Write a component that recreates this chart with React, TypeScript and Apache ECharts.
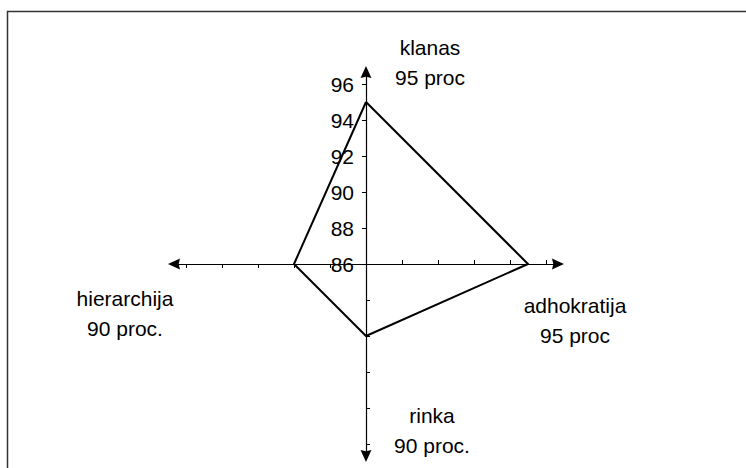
import React, { useEffect, useRef } from "react";
import * as echarts from "echarts";

const categories = ["klanas", "hierarchija", "rinka", "adhokratija"];
const values = [95, 90, 90, 95];
const valueLabels = ["95 proc", "90 proc.", "90 proc.", "95 proc"];
const axisMin = 86;
const axisMax = 96;

const FONT = "'Liberation Sans', Arial, sans-serif";
const ARROW = "path://M5,0L10,11L5,9.8L0,11Z";

export default function App() {
  const ref = useRef<HTMLDivElement>(null);
  useEffect(() => {
    document.body.style.margin = "0";
    if (!ref.current) return;
    const chart = echarts.init(ref.current, null, { renderer: "svg" });
    const namePos = [
      { x: 430, y: 32 },
      { x: 125, y: 283 },
      { x: 432, y: 400 },
      { x: 575, y: 290 },
    ];
    const baseRadar = {
      center: [366, 264],
      startAngle: 90,
      shape: "polygon",
      axisName: { show: false },
      splitLine: { show: false },
      splitArea: { show: false },
    };
    chart.setOption({
      animation: false,
      backgroundColor: "#fff",
      textStyle: { fontFamily: FONT },
      radar: [
        {
          ...baseRadar,
          radius: 180,
          splitNumber: 5,
          axisLine: { show: false },
          axisTick: { show: true, length: 4, lineStyle: { color: "#000", width: 1 } },
          axisLabel: { show: false, fontSize: 21, color: "#000", fontFamily: FONT, margin: 12 },
          indicator: categories.map((c, i) => ({
            name: c,
            min: axisMin,
            max: axisMax,
            axisLabel: { show: i === 0 },
            axisTick: { inside: i === 0 },
          })),
        },
        {
          ...baseRadar,
          radius: 180,
          splitNumber: 5,
          axisLine: { show: false },
          axisLabel: { show: false },
          axisTick: { show: true, inside: true, length: 4, lineStyle: { color: "#000", width: 1 } },
          indicator: categories.map((c, i) => ({
            name: c,
            min: axisMin,
            max: axisMax,
            axisTick: { show: i !== 0 },
          })),
        },
        {
          ...baseRadar,
          radius: 192,
          axisTick: { show: false },
          axisLabel: { show: false },
          axisLine: {
            show: true,
            symbol: ["none", ARROW],
            symbolSize: [11, 12],
            lineStyle: { color: "#000", width: 1.2 },
          },
          indicator: categories.map((c) => ({ name: c, min: 0, max: 1 })),
        },
      ],
      series: [
        {
          type: "radar",
          radarIndex: 0,
          symbol: "none",
          lineStyle: { color: "#000", width: 2 },
          itemStyle: { color: "#000" },
          data: [{ value: values, name: "kultura" }],
        },
      ],
      graphic: [
        {
          type: "rect",
          shape: { x: 7.5, y: 11.5, width: 800, height: 500 },
          style: { fill: "none", stroke: "#333", lineWidth: 1.5 },
          silent: true,
        },
        ...categories.map((c, i) => ({
          type: "text",
          x: namePos[i].x,
          y: namePos[i].y,
          style: {
            text: c + "\n" + valueLabels[i],
            font: "21px " + FONT,
            fill: "#000",
            align: "center",
            verticalAlign: "top",
            lineHeight: 30,
          },
        })),
      ],
    });
    return () => chart.dispose();
  }, []);
  return <div ref={ref} style={{ width: 746, height: 468 }} />;
}
